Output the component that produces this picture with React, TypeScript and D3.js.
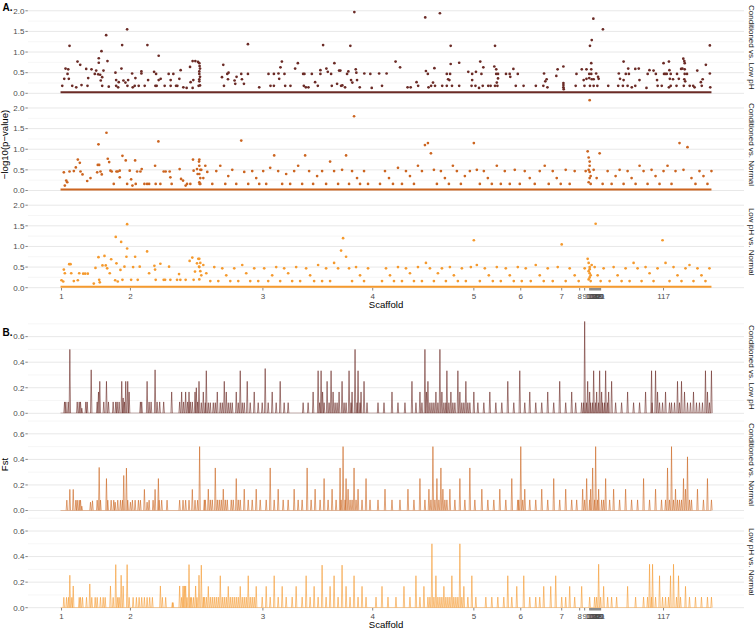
import React from "react";
import * as d3 from "d3";

type Pt = [number, number];

const facetNames = ["Conditioned vs. Low pH", "Conditioned vs. Normal", "Low pH vs. Normal"];
const facetColors = ["#6b2b26", "#cc6520", "#f59a2e"];

const scaffoldLabels = ["1", "2", "3", "4", "5", "6", "7", "8", "9", "10", "11", "12", "13", "14", "15", "16", "17", "18", "19", "20", "21", "117"];
const scaffoldStarts = [1, 70, 202.7, 312.7, 414, 461, 502, 520, 525, 530, 531, 532, 533, 534, 535, 536, 537, 538, 539, 540, 541, 604];

const posRange: Pt = [0, 652];

// -log10(p) — Conditioned vs. Low pH
const logpCondLow: Pt[] = [
  [9, 1.15], [45.7, 1.41], [66.7, 1.55], [61.7, 1.17], [87, 1.17], [41, 1.02], [98.3, 0.91], [38.3, 0.85], [38.3, 0.74], [47, 0.78],
  [17, 0.77], [19.7, 0.69], [5, 0.6], [7.7, 0.58], [25.7, 0.59], [31, 0.58], [35.7, 0.55], [37.7, 0.46], [39.7, 0.45], [61, 0.6],
  [7, 0.47], [8.3, 0.35], [3.7, 0.35], [27.7, 0.37], [34.3, 0.47], [43, 0.55], [41.7, 0.39], [40.3, 0.31], [55, 0.5], [55.7, 0.32],
  [58.3, 0.27], [63, 0.31], [65, 0.26], [67.7, 0.32], [71.7, 0.48], [75, 0.37], [81, 0.53], [81, 0.48], [87.7, 0.32], [93.7, 0.52],
  [95.7, 0.47], [98.3, 0.32], [100.3, 0.35], [108.3, 0.47], [110.3, 0.32], [113, 0.47], [120.3, 0.56], [119, 0.35], [129.7, 0.64], [132.3, 0.78],
  [135, 0.78], [137.7, 0.76], [139, 0.73], [139.3, 0.66], [139.7, 0.6], [139, 0.53], [139, 0.47], [139.7, 0.4], [139, 0.34], [139, 0.29],
  [139.7, 0.19], [130.3, 0.27], [133, 0.32], [132.3, 0.13],
  [1.7, 0.18], [11.7, 0.18], [15.7, 0.145], [21, 0.2], [27, 0.18], [41.7, 0.18], [48.3, 0.16], [55.7, 0.18], [57.7, 0.145], [67, 0.18],
  [72.3, 0.145], [74.3, 0.18], [78.3, 0.18], [84.3, 0.18], [95, 0.18], [96.3, 0.18], [104.3, 0.18], [110.3, 0.18], [115.7, 0.18], [117, 0.18],
  [123, 0.145], [126.3, 0.13], [138.3, 0.18],
  [163, 0.69], [161.7, 0.39], [163.7, 0.18], [167, 0.47], [168.3, 0.5], [167.7, 0.34], [174.3, 0.31], [176.3, 0.4], [175, 0.23], [181, 0.47],
  [181.7, 0.34], [183.7, 0.23], [187.7, 1.19], [187.7, 0.47], [199, 0.145], [208.3, 0.47], [210.3, 0.18], [213.7, 0.47], [213.7, 0.18], [218.3, 0.48],
  [219, 0.35], [220.3, 0.63], [221.7, 0.77], [224.3, 0.47], [225, 0.18], [230.3, 0.18], [235, 0.6], [237.7, 0.73], [243, 0.47], [244.3, 0.47],
  [243.7, 0.18], [245.7, 0.145], [248.3, 0.145], [251.7, 0.47], [255, 0.27], [257.7, 0.18], [260.3, 0.56], [260.3, 0.47], [263, 1.17], [266.3, 0.6],
  [267.7, 0.52], [271, 0.47], [271.7, 0.18], [274.3, 0.73], [277, 0.23], [279, 0.55], [280.3, 0.55], [281, 0.18], [282.3, 0.19], [285, 0.145],
  [287, 0.47], [288.3, 0.53], [290.3, 1.15], [291, 0.32], [292.3, 0.26], [294.3, 1.97], [295.7, 0.58], [296.3, 0.5], [297, 0.32], [299.7, 0.145],
  [304.3, 0.48], [310.3, 0.47], [311.7, 0.13], [319.1, 0.48], [322, 0.18], [326.6, 0.48], [335.6, 0.77], [340.1, 0.63], [347.6, 0.145],
  [365.3, 1.84], [380, 1.94], [390.8, 1.15], [435.2, 1.15], [533.7, 1.81], [543.3, 1.55], [532.1, 1.29], [530.3, 1.15], [650.4, 1.16], [420.4, 0.77],
  [399.3, 0.74], [390.8, 0.71], [564, 0.77], [604, 0.73], [609.4, 0.77], [623.8, 0.84], [624.8, 0.78], [625.2, 0.73], [646.4, 0.69], [531.6, 0.73],
  [503.7, 0.65], [497.9, 0.58], [374.5, 0.61], [366, 0.54], [367.9, 0.47], [386.9, 0.47], [390.2, 0.47], [388.2, 0.34], [389.5, 0.32], [408.4, 0.52],
  [412.3, 0.47], [416.1, 0.52], [423.5, 0.63], [421.6, 0.47], [412.3, 0.32], [434.5, 0.65], [436.4, 0.58], [436.4, 0.47], [438.2, 0.47], [438.2, 0.36],
  [437, 0.26], [446.2, 0.47], [449.9, 0.47], [450.5, 0.4], [453.6, 0.59], [458, 0.47], [484.3, 0.48], [486.9, 0.34], [485.6, 0.29], [496.6, 0.42],
  [516.8, 0.47], [522.1, 0.58], [526.8, 0.58], [529.6, 0.47], [529.6, 0.37], [531.6, 0.58], [531.6, 0.47], [532.1, 0.34], [534, 0.34], [536.5, 0.48],
  [538.4, 0.4], [539, 0.35], [524, 0.32], [526.8, 0.35], [559.2, 0.48], [560.4, 0.35], [564, 0.32], [566.2, 0.47], [568.6, 0.6], [569.3, 0.47],
  [575.7, 0.59], [579.2, 0.6], [579.9, 0.32], [588.1, 0.47], [589.9, 0.56], [594, 0.55], [596.3, 0.47], [597.5, 0.32], [604.5, 0.47], [605.8, 0.47],
  [607.2, 0.47], [609.9, 0.56], [611.2, 0.47], [610.3, 0.35], [613.5, 0.34], [617.5, 0.47], [619.3, 0.35], [621.6, 0.59], [622.9, 0.6], [625.2, 0.58],
  [625.2, 0.47], [627.5, 0.47], [624.8, 0.34], [625.7, 0.29], [637.8, 0.55], [643.2, 0.34], [641.4, 0.27], [650.4, 0.48],
  [350.7, 0.145], [356.6, 0.27], [358.2, 0.18], [368.6, 0.145], [371.2, 0.18], [373.1, 0.26], [375.1, 0.18], [382.3, 0.18], [386.9, 0.18], [392.1, 0.18],
  [399.3, 0.18], [411.7, 0.18], [415.6, 0.18], [419.2, 0.13], [422.9, 0.18], [428.4, 0.18], [430.8, 0.18], [435.2, 0.18], [437.6, 0.18], [456, 0.18],
  [463.8, 0.18], [476.1, 0.18], [483.6, 0.18], [487.7, 0.145], [503.7, 0.145], [516, 0.18], [524.8, 0.18], [530.3, 0.18], [534, 0.18], [537.7, 0.18],
  [548.6, 0.18], [558.6, 0.18], [563.3, 0.18], [568, 0.18], [572.2, 0.145], [575.7, 0.18], [586.9, 0.13], [598.1, 0.18], [602.2, 0.18], [609.4, 0.145],
  [611.2, 0.18], [617, 0.18], [624.3, 0.18], [630.2, 0.18], [633.7, 0.18], [635.1, 0.145], [642.3, 0.18], [650.8, 0.145],
  [503.7, 0.25], [503.7, 0.2], [504, 0.1],
];

// -log10(p) — Conditioned vs. Normal
const logpCondNorm: Pt[] = [
  [3.3, 0.44], [4.3, 0.12], [5.7, 0.24], [6.7, 0.2], [9, 0.46], [13.3, 0.47], [15.3, 0.56], [17.3, 0.75], [19.3, 0.67], [20, 0.46],
  [22, 0.39], [26.7, 0.23], [30, 0.3], [36.7, 0.44], [38, 1.12], [37.3, 0.62], [38.7, 0.62], [40, 0.46], [41.3, 0.39], [46, 1.4],
  [47.3, 0.77], [48.7, 0.69], [50, 0.48], [51.3, 0.46], [53.3, 0.16], [56, 0.46], [57.3, 0.46], [59.3, 0.48], [59.3, 0.32], [62, 0.84],
  [65.3, 0.73], [66.7, 0.16], [69.3, 0.48], [70.7, 0.27], [72, 0.12], [74.7, 0.73], [75.3, 0.16], [76.7, 0.46], [80, 0.46], [81.3, 0.52],
  [84, 0.16], [86.7, 0.16], [88.7, 0.16], [94.7, 0.6], [95.3, 0.16], [98, 1.19], [100, 0.16], [103.3, 0.46], [105.3, 0.46], [109.3, 0.46],
  [110, 0.32], [111.3, 0.16], [119.3, 0.52], [120.7, 0.28], [122.7, 0.24], [125.3, 0.12], [126.7, 0.16], [130, 0.16], [132.7, 0.75], [133.3, 0.48],
  [136.7, 0.52], [137.3, 0.4], [138.7, 0.7], [139.3, 0.16],
  [139, 0.75], [139, 0.6], [140, 0.5], [139, 0.4], [140, 0.3], [139, 0.2], [140, 0.16],
  [141, 0.5], [143, 0.3], [145, 0.6], [147, 0.45], [152, 0.16], [156, 0.47], [160, 0.6], [165, 0.16], [168, 0.35], [172, 0.5],
  [176, 0.16], [181, 1.21], [184, 0.45], [188, 0.16], [192, 0.47], [196, 0.3], [199, 0.16], [203, 0.47], [206, 0.16], [210, 0.55],
  [214, 0.85], [218, 0.47], [222, 0.16], [226, 0.4], [230, 0.16], [234, 0.47], [238, 0.6], [242, 0.16], [245, 0.85], [249, 0.47],
  [253, 0.16], [257, 0.35], [262, 0.47], [266, 0.16], [270, 0.7], [274, 0.47], [278, 0.16], [282, 0.5], [286, 0.85], [289, 0.16],
  [292, 0.47], [294, 1.8], [297, 0.3], [300, 0.16], [304, 0.47], [308, 0.16], [320, 0.16], [325, 0.47], [329, 0.3], [333, 0.16],
  [338, 0.55], [342, 0.16], [346, 0.47], [350, 0.35], [354, 0.16], [358, 0.6], [362, 0.47], [365, 1.1], [368, 1.15], [371, 0.9],
  [374, 0.5], [377, 0.16], [381, 0.47], [385, 0.3], [389, 0.16], [393, 0.6], [397, 0.47], [401, 0.16], [405, 0.35], [410, 0.47],
  [414, 1.15], [417, 0.5], [420, 0.16], [424, 0.47], [428, 0.3], [432, 0.16], [437, 0.6], [441, 0.16], [445, 0.47], [450, 0.16],
  [455, 0.5], [460, 0.16], [465, 0.47], [470, 0.3], [475, 0.16], [480, 0.47], [485, 0.6], [489, 0.16], [493, 0.47], [497, 0.3],
  [501, 0.16], [506, 0.5], [510, 0.16], [515, 0.47],
  [528, 0.95], [529, 0.8], [530, 0.7], [530, 0.6], [529, 0.5], [530, 0.45], [531, 0.35], [530, 0.3], [529, 0.2], [531, 0.16],
  [526, 0.47], [534, 0.5], [537, 0.3], [540, 0.9], [543, 0.16], [548, 0.47], [552, 0.16], [556, 0.35], [560, 0.5], [564, 0.16],
  [568, 0.47], [572, 0.3], [576, 0.16], [580, 0.6], [584, 0.47], [588, 0.16], [592, 0.5], [596, 0.35], [600, 0.16], [604, 0.47],
  [608, 0.6], [612, 0.16], [616, 0.47], [620, 1.15], [624, 0.5], [628, 1.05], [632, 0.3], [636, 0.16], [640, 0.47], [644, 0.35],
  [648, 0.16], [652, 0.47], [530, 2.19],
];

// -log10(p) — Low pH vs. Normal
const logpLowNorm: Pt[] = [
  [1, 0.18], [2.7, 0.15], [3.3, 0.44], [4.3, 0.35], [8.7, 0.57], [10, 0.57], [10.7, 0.35], [13.3, 0.16], [17.3, 0.18], [18.7, 0.35],
  [22.7, 0.34], [24.7, 0.34], [27.3, 0.34], [33.3, 0.1], [35, 0.48], [38, 0.74], [38.7, 0.19], [39.3, 0.13], [42, 0.54], [44, 0.77],
  [45.3, 0.54], [46.7, 0.47], [49.3, 0.35], [50.7, 0.69], [54.7, 0.18], [56, 0.59], [57.3, 0.15], [55.3, 1.23], [60, 0.43], [60.7, 1.11],
  [62, 0.19], [64, 0.51], [66, 0.75], [66.7, 1.54], [66.7, 0.95], [70.7, 0.19], [72.7, 0.5], [74.7, 0.75], [77.3, 0.19], [79.3, 0.51],
  [86.7, 0.88], [88.7, 0.35], [94, 0.53], [94.7, 0.44], [95.3, 0.19], [100, 0.58], [103.3, 0.19], [104.7, 0.19], [108.7, 0.51], [110, 0.19],
  [116.7, 0.19], [118.7, 0.33], [120, 0.19], [125.3, 0.19], [129.3, 0.65], [132, 0.73], [133.3, 0.19], [134.7, 0.39], [136.7, 0.59], [138, 0.7],
  [138.7, 0.51],
  [139, 0.7], [140, 0.6], [139, 0.5], [140, 0.4], [141, 0.3], [139, 0.2], [143, 0.55], [146, 0.35], [150, 0.16], [154, 0.5],
  [158, 0.16], [162, 0.47], [166, 0.3], [170, 0.16], [174, 0.47], [178, 0.16], [182, 0.55], [186, 0.35], [190, 0.16], [194, 0.47],
  [198, 0.16], [204, 0.47], [208, 0.16], [212, 0.3], [216, 0.5], [220, 0.16], [224, 0.47], [228, 0.35], [232, 0.16], [236, 0.5],
  [240, 0.16], [246, 0.47], [250, 0.3], [254, 0.16], [258, 0.55], [262, 0.16], [266, 0.47], [270, 0.16], [274, 0.6], [278, 0.47],
  [281, 0.9], [283, 1.2], [286, 0.75], [289, 0.47], [292, 0.16], [296, 0.5], [300, 0.3], [304, 0.16], [308, 0.47], [322, 0.16],
  [326, 0.47], [330, 0.3], [334, 0.16], [338, 0.5], [342, 0.16], [346, 0.47], [350, 0.35], [354, 0.16], [358, 0.5], [362, 0.16],
  [366, 0.6], [370, 0.47], [374, 0.16], [378, 0.35], [382, 0.47], [386, 0.16], [390, 0.5], [394, 0.3], [398, 0.16], [402, 0.47],
  [406, 0.16], [411, 0.5], [414, 1.15], [417, 0.55], [420, 0.16], [425, 0.47], [429, 0.3], [433, 0.16], [437, 0.5], [441, 0.16],
  [446, 0.47], [450, 0.3], [454, 0.16], [458, 0.5], [462, 0.16], [466, 0.47], [471, 0.16], [476, 0.55], [480, 0.3], [484, 0.16],
  [488, 0.47], [493, 0.16], [498, 0.5], [502, 1.05], [506, 0.16], [510, 0.47], [515, 0.3], [519, 0.16],
  [528, 0.7], [529, 0.6], [530, 0.5], [530, 0.45], [529, 0.4], [530, 0.35], [531, 0.3], [530, 0.25], [529, 0.2], [531, 0.16],
  [532, 0.55], [525, 0.47], [536, 1.55], [535, 0.5], [538, 0.3], [541, 0.16], [544, 0.47], [550, 0.16], [554, 0.5], [558, 0.3],
  [562, 0.16], [566, 0.47], [570, 0.16], [574, 0.6], [578, 0.47], [582, 0.16], [586, 0.5], [590, 0.35], [594, 0.16], [598, 0.47],
  [603, 1.15], [606, 0.6], [610, 0.16], [614, 0.5], [618, 0.3], [622, 0.16], [626, 0.47], [630, 0.55], [634, 0.16], [638, 0.47],
  [642, 0.3], [646, 0.16], [650, 0.47],
];

// Fst — spikes above zero
const fstCondLow: Pt[] = [
  [4, 0.089], [5.3, 0.089], [7.7, 0.089], [9.3, 0.5], [16.7, 0.089], [18.7, 0.089], [20, 0.089], [21.3, 0.04], [25.3, 0.089], [26.7, 0.089],
  [30.7, 0.34], [36.7, 0.089], [38, 0.167], [39.3, 0.25], [43.3, 0.089], [46, 0.25], [48, 0.089], [52.7, 0.089], [55.3, 0.089], [56.7, 0.089],
  [58.7, 0.089], [61.3, 0.25], [62.7, 0.12], [64, 0.089], [65.3, 0.25], [67.3, 0.25], [68.7, 0.167], [80, 0.089], [81.3, 0.089], [86.7, 0.25],
  [88.7, 0.089], [90.7, 0.089], [94.7, 0.34], [96.7, 0.089], [99.3, 0.089], [103.3, 0.089], [111.3, 0.167], [119.3, 0.089], [121.3, 0.167], [123.3, 0.089],
  [125.3, 0.167], [127.3, 0.089], [128.7, 0.167], [130, 0.089], [132, 0.089], [134.7, 0.167], [136, 0.2], [137.3, 0.089], [138.7, 0.25],
  [143, 0.167], [146, 0.333], [150, 0.083], [153, 0.083], [157, 0.167], [160, 0.083], [164, 0.25], [168, 0.083], [172, 0.083], [176, 0.167],
  [180, 0.333], [184, 0.083], [187, 0.25], [190, 0.083], [194, 0.167], [198, 0.083], [202, 0.083], [205, 0.35], [208, 0.083], [212, 0.167],
  [216, 0.083], [220, 0.25], [224, 0.083], [228, 0.083], [243, 0.083], [248, 0.083], [253, 0.167], [258, 0.333], [261, 0.333], [264, 0.083],
  [267, 0.25], [271, 0.333], [275, 0.083], [279, 0.167], [282, 0.25], [286, 0.083], [289, 0.333], [292, 0.167], [295, 0.5], [298, 0.333],
  [301, 0.167], [304, 0.25], [307, 0.083], [318, 0.083], [324, 0.083], [332, 0.167], [338, 0.083], [345, 0.083], [352, 0.25], [356, 0.083],
  [360, 0.167], [365, 0.5], [368, 0.25], [372, 0.083], [376, 0.167], [380, 0.5], [384, 0.083], [387, 0.333], [391, 0.167], [395, 0.083],
  [398, 0.333], [402, 0.083], [406, 0.25], [410, 0.083], [414, 0.167], [418, 0.083], [424, 0.083], [430, 0.167], [436, 0.083], [442, 0.083],
  [448, 0.25], [454, 0.083], [460, 0.333], [465, 0.083], [470, 0.167], [476, 0.083], [482, 0.083], [488, 0.167], [494, 0.083], [500, 0.25],
  [506, 0.083], [512, 0.167], [516, 0.083], [522, 0.083], [525, 0.72], [528, 0.25], [531, 0.083], [534, 0.333], [537, 0.167], [540, 0.333],
  [543, 0.083], [546, 0.333], [549, 0.167], [552, 0.25], [556, 0.083], [562, 0.083], [568, 0.167], [574, 0.083], [580, 0.083], [586, 0.167],
  [592, 0.333], [596, 0.333], [600, 0.083], [606, 0.167], [612, 0.083], [618, 0.25], [622, 0.25], [628, 0.083], [634, 0.167], [640, 0.083],
  [646, 0.333], [650, 0.083], [652, 0.333],
  [141, 0.083], [145, 0.083], [148, 0.083], [155, 0.083], [162, 0.083], [166, 0.167], [170, 0.083], [178, 0.083], [182, 0.083], [259.5, 0.083],
  [262.5, 0.167], [269, 0.083], [273, 0.167], [277, 0.083], [284, 0.083], [291, 0.083], [297, 0.083], [300, 0.083], [362, 0.083], [366.5, 0.167],
  [370, 0.083], [374, 0.083], [378, 0.083], [382, 0.167], [386, 0.083], [389, 0.083], [393, 0.083], [400, 0.167], [404, 0.083], [408, 0.083],
  [524, 0.083], [527, 0.083], [530, 0.167], [533, 0.083], [536, 0.083], [539, 0.083], [542, 0.167], [545, 0.083], [548, 0.083], [592.5, 0.083],
  [598, 0.167], [603, 0.083], [610, 0.083], [615, 0.083], [620, 0.083], [625, 0.167], [631, 0.083], [637, 0.083], [643, 0.083], [648, 0.167],
];
const fstCondNorm: Pt[] = [
  [6.3, 0.081], [9.3, 0.165], [12.7, 0.165], [15.3, 0.081], [16.7, 0.081], [18.7, 0.081], [20, 0.081], [21.3, 0.034], [30, 0.065], [32, 0.076],
  [36.7, 0.081], [38.7, 0.337], [40, 0.081], [46, 0.25], [47.3, 0.081], [50.7, 0.081], [53.3, 0.081], [54.7, 0.065], [57.3, 0.081], [60, 0.081],
  [62, 0.081], [63.3, 0.274], [66, 0.332], [67.3, 0.081], [70, 0.065], [72, 0.081], [74.7, 0.081], [78, 0.081], [80, 0.081], [84, 0.165],
  [86.7, 0.065], [88.7, 0.081], [92.7, 0.081], [94.7, 0.165], [98, 0.25], [98.7, 0.081], [101.3, 0.081], [106.7, 0.081], [119.3, 0.081], [122.7, 0.081],
  [125.3, 0.081], [128.7, 0.081], [132, 0.165], [134.7, 0.081], [137.3, 0.081], [139.3, 0.5],
  [144, 0.083], [148, 0.167], [152, 0.083], [155, 0.333], [159, 0.083], [163, 0.167], [167, 0.083], [171, 0.083], [176, 0.25], [180, 0.083],
  [184, 0.167], [188, 0.083], [192, 0.083], [196, 0.167], [200, 0.083], [206, 0.083], [210, 0.333], [214, 0.083], [218, 0.167], [223, 0.083],
  [228, 0.083], [234, 0.167], [238, 0.083], [242, 0.083], [247, 0.333], [251, 0.083], [255, 0.167], [260, 0.083], [264, 0.25], [268, 0.083],
  [272, 0.167], [276, 0.083], [280, 0.333], [283, 0.5], [286, 0.25], [290, 0.083], [294, 0.333], [298, 0.167], [302, 0.083], [306, 0.25],
  [310, 0.083], [318, 0.083], [325, 0.167], [332, 0.083], [340, 0.083], [348, 0.167], [354, 0.083], [360, 0.25], [365, 0.083], [369, 0.167],
  [373, 0.5], [377, 0.25], [381, 0.333], [385, 0.083], [390, 0.167], [395, 0.083], [400, 0.25], [405, 0.083], [410, 0.333], [415, 0.083],
  [422, 0.167], [428, 0.083], [434, 0.083], [440, 0.167], [446, 0.083], [452, 0.25], [458, 0.083], [461, 0.5], [465, 0.167], [470, 0.083],
  [476, 0.083], [482, 0.167], [488, 0.083], [494, 0.25], [500, 0.083], [506, 0.167], [512, 0.083], [517, 0.083], [523, 0.167], [527, 0.25],
  [530, 0.083], [533, 0.333], [536, 0.5], [539, 0.167], [542, 0.083], [546, 0.25], [550, 0.083], [554, 0.167], [560, 0.083], [566, 0.167],
  [572, 0.083], [578, 0.083], [584, 0.25], [590, 0.083], [596, 0.167], [602, 0.083], [608, 0.333], [612, 0.5], [616, 0.167], [620, 0.083],
  [624, 0.25], [628, 0.42], [632, 0.083], [638, 0.167], [644, 0.083], [648, 0.25], [652, 0.083],
  [145, 0.083], [150, 0.083], [157, 0.083], [161, 0.083], [165, 0.083], [173, 0.083], [178, 0.083], [281, 0.083], [285, 0.083], [288, 0.167],
  [292, 0.083], [296, 0.083], [371, 0.083], [375, 0.083], [379, 0.083], [383, 0.167], [387, 0.083], [459, 0.083], [463, 0.083], [525, 0.083],
  [531, 0.167], [535, 0.083], [538, 0.083], [544, 0.083], [606, 0.083], [610, 0.083], [614, 0.083], [618, 0.083], [622, 0.083], [626, 0.167],
  [630, 0.083],
];
const fstLowNorm: Pt[] = [
  [3.3, 0.081], [6, 0.081], [8, 0.081], [9.3, 0.254], [11.3, 0.081], [12.7, 0.17], [18.7, 0.081], [20, 0.081], [22, 0.081], [26, 0.081],
  [29.3, 0.186], [31.3, 0.081], [34.7, 0.081], [36.7, 0.081], [40, 0.081], [42.7, 0.081], [44.7, 0.081], [50, 0.17], [52.7, 0.081], [55.3, 0.337],
  [57.3, 0.081], [58.7, 0.081], [60.7, 0.254], [62.7, 0.17], [66.7, 0.337], [68.7, 0.081], [72.7, 0.081], [76, 0.081], [78.7, 0.081], [81.3, 0.081],
  [84, 0.081], [86.7, 0.081], [89.3, 0.081], [92, 0.081], [100, 0.17], [102, 0.081], [105.3, 0.081], [112, 0.04], [112.7, 0.04], [119.3, 0.17],
  [121.3, 0.081], [122.7, 0.17], [124, 0.17], [125.3, 0.17], [126.7, 0.081], [128.7, 0.337], [130, 0.081], [131.3, 0.081], [133.3, 0.081], [135.3, 0.17],
  [136.7, 0.081], [138.7, 0.254],
  [141, 0.333], [144, 0.083], [148, 0.167], [152, 0.083], [156, 0.083], [160, 0.25], [164, 0.083], [168, 0.167], [172, 0.083], [176, 0.083],
  [180, 0.167], [184, 0.083], [188, 0.25], [192, 0.083], [196, 0.167], [202, 0.083], [206, 0.167], [210, 0.083], [214, 0.25], [218, 0.083],
  [222, 0.167], [226, 0.083], [232, 0.083], [236, 0.167], [242, 0.083], [246, 0.25], [250, 0.083], [254, 0.167], [258, 0.083], [262, 0.333],
  [266, 0.083], [270, 0.167], [274, 0.25], [278, 0.083], [282, 0.333], [286, 0.167], [290, 0.083], [294, 0.25], [298, 0.083], [302, 0.167],
  [306, 0.083], [316, 0.083], [322, 0.167], [328, 0.083], [336, 0.083], [344, 0.167], [350, 0.083], [356, 0.25], [360, 0.083], [364, 0.167],
  [368, 0.083], [372, 0.5], [376, 0.25], [380, 0.083], [384, 0.167], [388, 0.083], [392, 0.25], [396, 0.083], [400, 0.5], [404, 0.167],
  [408, 0.083], [412, 0.25], [416, 0.083], [426, 0.083], [432, 0.083], [438, 0.083], [444, 0.083], [448, 0.25], [452, 0.083], [457, 0.167],
  [464, 0.25], [470, 0.083], [476, 0.083], [480, 0.083], [484, 0.167], [491, 0.167], [496, 0.25], [502, 0.083], [506, 0.083], [510, 0.167],
  [515, 0.083], [522, 0.167], [530, 0.083], [535, 0.083], [539, 0.34], [544, 0.167], [548, 0.083], [552, 0.083], [557, 0.083], [568, 0.167],
  [576, 0.083], [584, 0.083], [590, 0.34], [593, 0.34], [600, 0.25], [606, 0.083], [611, 0.25], [614, 0.34], [619, 0.25], [626, 0.167],
  [630, 0.083], [636, 0.083], [642, 0.083], [648, 0.083], [652, 0.083],
  [143, 0.083], [146, 0.083], [150, 0.083], [154, 0.083], [158, 0.083], [162, 0.083], [166, 0.083], [170, 0.083], [174, 0.083], [178, 0.083],
  [182, 0.083], [186, 0.083], [190, 0.083], [194, 0.083], [370, 0.083], [374, 0.083], [378, 0.083], [382, 0.083], [386, 0.083], [390, 0.083],
  [394, 0.083], [398, 0.083], [402, 0.083], [537, 0.083], [541, 0.083], [588, 0.083], [592, 0.083], [596, 0.083], [603, 0.083], [609, 0.083],
  [617, 0.083], [621, 0.083],
];

const logpSets = [logpCondLow, logpCondNorm, logpLowNorm];
const fstSets = [fstCondLow, fstCondNorm, fstLowNorm];

const logpTicks = [0, 0.5, 1, 1.5, 2];
const logpMinor = [0.25, 0.75, 1.25, 1.75];
const fstTicks = [0, 0.2, 0.4, 0.6];
const fstMinor = [0.1, 0.3, 0.5, 0.7];

const FONT = "'Liberation Sans', Arial, Helvetica, sans-serif";

export default function App() {
  const W = 755;
  const H = 631;
  const span = posRange[1] - posRange[0];
  const x = d3
    .scaleLinear()
    .domain([posRange[0] - 0.05 * span, posRange[1] + 0.05 * span])
    .range([28, 744]);
  const [px0, px1] = x.range();
  const facetH = 92;
  const step = 97.2;
  const panelA = { bottom0: 93.3, ymax: 2.23, ticks: logpTicks, minor: logpMinor, fmt: d3.format(".1f") };
  const panelB = { bottom0: 413.3, ymax: 0.72, ticks: fstTicks, minor: fstMinor, fmt: d3.format(".1f") };

  const makeY = (bottom0: number, ymax: number, i: number) =>
    d3.scaleLinear().domain([0, ymax]).range([bottom0 + i * step, bottom0 + i * step - facetH]);

  const grid = (y: d3.ScaleLinear<number, number>, ticks: number[], minor: number[], key: string) => (
    <g key={key}>
      {minor.filter((t) => t <= y.domain()[1]).map((t) => (
        <line key={"m" + t} x1={px0} x2={px1} y1={y(t)} y2={y(t)} stroke="#f0f0f0" strokeWidth={0.6} />
      ))}
      {ticks.map((t) => (
        <line key={"M" + t} x1={px0} x2={px1} y1={y(t)} y2={y(t)} stroke="#e8e8e8" strokeWidth={1} />
      ))}
    </g>
  );

  const yAxis = (y: d3.ScaleLinear<number, number>, ticks: number[], fmt: (n: number) => string, key: string) => (
    <g key={key}>
      {ticks.map((t) => (
        <g key={t}>
          <line x1={px0 - 2.6} x2={px0 - 0.2} y1={y(t)} y2={y(t)} stroke="#333" strokeWidth={0.6} />
          <text x={px0 - 3.6} y={y(t)} dy="0.35em" textAnchor="end" fontSize={8} fill="#4d4d4d" fontFamily={FONT}>
            {fmt(t)}
          </text>
        </g>
      ))}
    </g>
  );

  const xAxis = (bottom: number, key: string) => (
    <g key={key}>
      {scaffoldStarts.map((s, i) => (
        <line key={"t" + i} x1={x(s)} x2={x(s)} y1={bottom + 0.3} y2={bottom + 2.8} stroke="#333" strokeWidth={0.6} />
      ))}
      {scaffoldStarts.map((s, i) => (
        <text key={"l" + i} x={x(s)} y={bottom + 10.8} textAnchor="middle" fontSize={8} fill="#4d4d4d" fontFamily={FONT}>
          {scaffoldLabels[i]}
        </text>
      ))}
      <text x={(px0 + px1) / 2} y={bottom + 20.6} textAnchor="middle" fontSize={9.6} fill="#000" fontFamily={FONT}>
        Scaffold
      </text>
    </g>
  );

  const strip = (y: d3.ScaleLinear<number, number>, label: string, key: string) => {
    const cy = (y.range()[0] + y.range()[1]) / 2;
    return (
      <text key={key} transform={`translate(748.6,${cy}) rotate(90)`} textAnchor="middle" fontSize={8} fill="#1a1a1a" fontFamily={FONT}>
        {label}
      </text>
    );
  };

  const facetsA = [0, 1, 2].map((i) => {
    const y = makeY(panelA.bottom0, panelA.ymax, i);
    const top = y.range()[1];
    const bottom = y.range()[0];
    const clipId = `clipA${i}`;
    const line = d3.line<Pt>().x((d) => x(d[0])).y((d) => y(d[1]));
    return (
      <g key={"A" + i}>
        <clipPath id={clipId}>
          <rect x={px0} y={top} width={px1 - px0} height={bottom - top} />
        </clipPath>
        {grid(y, panelA.ticks, panelA.minor, "g")}
        <g clipPath={`url(#${clipId})`}>
          <path d={line([[posRange[0], 0], [posRange[1], 0]]) || ""} stroke={facetColors[i]} strokeWidth={4} fill="none" />
          {logpSets[i].map((d, j) => (
            <circle key={j} cx={x(d[0])} cy={y(d[1])} r={1.35} fill={facetColors[i]} />
          ))}
        </g>
        {yAxis(y, panelA.ticks, panelA.fmt, "ya")}
        {strip(y, facetNames[i], "s")}
      </g>
    );
  });

  const facetsB = [0, 1, 2].map((i) => {
    const y = makeY(panelB.bottom0, panelB.ymax, i);
    const top = y.range()[1];
    const bottom = y.range()[0];
    const clipId = `clipB${i}`;
    const line = d3.line<Pt>().x((d) => x(d[0])).y((d) => y(d[1]));
    const hw = 0.7;
    return (
      <g key={"B" + i}>
        <clipPath id={clipId}>
          <rect x={px0} y={top} width={px1 - px0} height={bottom - top} />
        </clipPath>
        {grid(y, panelB.ticks, panelB.minor, "g")}
        <g clipPath={`url(#${clipId})`}>
          <path d={line([[posRange[0], 0], [posRange[1], 0]]) || ""} stroke={facetColors[i]} strokeOpacity={0.75} strokeWidth={1.1} fill="none" />
          {fstSets[i].map((d, j) => (
            <path
              key={j}
              d={line([[d[0] - hw, 0], [d[0], d[1]], [d[0] + hw, 0]]) || ""}
              stroke={facetColors[i]}
              strokeOpacity={0.6}
              strokeWidth={1}
              fill="none"
            />
          ))}
        </g>
        {yAxis(y, panelB.ticks, panelB.fmt, "yb")}
        {strip(y, facetNames[i], "s")}
      </g>
    );
  });

  const aBottom = panelA.bottom0 + 2 * step;
  const bBottom = panelB.bottom0 + 2 * step;

  return (
    <svg width={W} height={H} style={{ position: "absolute", left: 0, top: 0, background: "#fff" }}>
      <rect x={0} y={0} width={W} height={H} fill="#fff" />
      {facetsA}
      {xAxis(aBottom, "xa")}
      {facetsB}
      {xAxis(bBottom, "xb")}
      <text transform={`translate(8.4,${(panelA.bottom0 - facetH + aBottom) / 2}) rotate(-90)`} textAnchor="middle" fontSize={9.6} fontFamily={FONT} fill="#000">
        −log10(p−value)
      </text>
      <text transform={`translate(8.4,${(panelB.bottom0 - facetH + bBottom) / 2}) rotate(-90)`} textAnchor="middle" fontSize={9.6} fontFamily={FONT} fill="#000">
        Fst
      </text>
      <text x={2.5} y={10.8} fontSize={10} fontWeight="bold" fontFamily={FONT}>A.</text>
      <text x={2.5} y={335.5} fontSize={10} fontWeight="bold" fontFamily={FONT}>B.</text>
    </svg>
  );
}
